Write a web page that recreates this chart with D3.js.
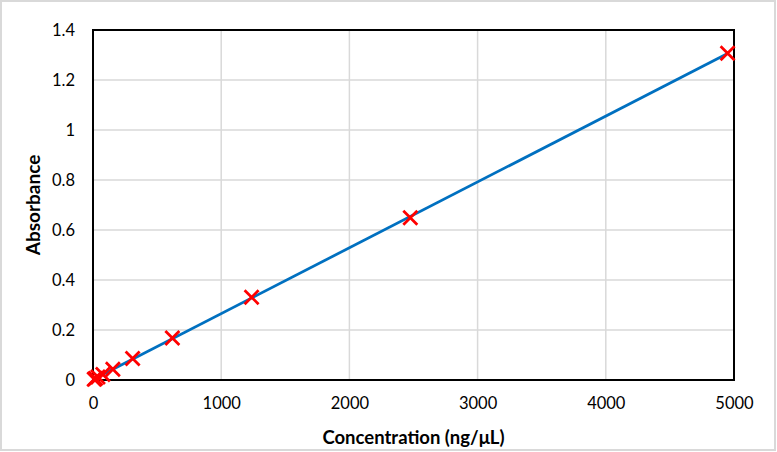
<!DOCTYPE html>
<html><head><meta charset="utf-8">
<script src="https://cdn.jsdelivr.net/npm/d3@7"></script>
<style>body{margin:0;background:#fff}svg{display:block}text{font-family:Lato,"Open Sans",sans-serif}</style>
</head><body>
<script>
const concentration = [9.7, 19.3, 38.7, 77, 155, 309, 619, 1237, 2475, 4950];
const absorbance = [0.003, 0.006, 0.012, 0.022, 0.043, 0.086, 0.168, 0.331, 0.649, 1.307];
const xTicks = [0, 1000, 2000, 3000, 4000, 5000];
const yTicks = [0, 0.2, 0.4, 0.6, 0.8, 1, 1.2, 1.4];

const W = 777, H = 452;
const svg = d3.select("body").append("svg").attr("width", W).attr("height", H);
svg.append("rect").attr("x",1).attr("y",1).attr("width",W-3).attr("height",H-3)
  .attr("fill","#fff").attr("stroke","#d9d9d9").attr("stroke-width",2);

const L = 93, R = 734, T = 30, B = 380;
const x = d3.scaleLinear().domain([0,5000]).range([L,R]);
const y = d3.scaleLinear().domain([0,1.4]).range([B,T]);

// gridlines
svg.append("g").selectAll("line").data(xTicks.slice(1,-1)).join("line")
  .attr("x1",d=>x(d)).attr("x2",d=>x(d)).attr("y1",T).attr("y2",B)
  .attr("stroke","#d9d9d9").attr("stroke-width",1.5);
svg.append("g").selectAll("line").data(yTicks.slice(1,-1)).join("line")
  .attr("x1",L).attr("x2",R).attr("y1",d=>y(d)).attr("y2",d=>y(d))
  .attr("stroke","#d9d9d9").attr("stroke-width",1.5);

// axes (labels only)
const xa = svg.append("g").attr("transform",`translate(0,${B})`)
  .call(d3.axisBottom(x).tickValues(xTicks).tickSize(0).tickPadding(17).tickFormat(d3.format("d")));
const ya = svg.append("g").attr("transform",`translate(${L},0)`)
  .call(d3.axisLeft(y).tickValues(yTicks).tickSize(0).tickPadding(18).tickFormat(d=>String(+d.toFixed(1))));
[xa,ya].forEach(a=>{a.select(".domain").remove();a.selectAll("text").attr("font-size",16.5).attr("fill","#000").attr("font-family","Lato, 'Open Sans', sans-serif");});

// plot border
svg.append("rect").attr("x",L).attr("y",T).attr("width",R-L).attr("height",B-T)
  .attr("fill","none").attr("stroke","#000").attr("stroke-width",2);

// linear fit
const mx = d3.mean(concentration), my = d3.mean(absorbance);
const slope = d3.sum(concentration.map((c,i)=>(c-mx)*(absorbance[i]-my))) / d3.sum(concentration.map(c=>(c-mx)**2));
const icpt = my - slope*mx;
const x0 = 0, x1 = d3.max(concentration);
svg.append("line").attr("x1",x(x0)).attr("y1",y(icpt+slope*x0)).attr("x2",x(x1)).attr("y2",y(icpt+slope*x1))
  .attr("stroke","#0070c0").attr("stroke-width",2.75);

// markers
const s = 7;
const g = svg.append("g").selectAll("g").data(concentration.map((c,i)=>[c,absorbance[i]])).join("g")
  .attr("transform",d=>`translate(${x(d[0])},${y(d[1])})`);
g.append("path").attr("d",`M${-s},${-s}L${s},${s}M${-s},${s}L${s},${-s}`)
  .attr("stroke","#ff0000").attr("stroke-width",2.75).attr("fill","none");

// titles
svg.append("text").attr("x",(L+R)/2).attr("y",444).attr("text-anchor","middle")
  .attr("font-size",18.5).attr("font-weight","bold").text("Concentration (ng/μL)");
svg.append("text").attr("transform",`translate(40,${(T+B)/2}) rotate(-90)`).attr("text-anchor","middle")
  .attr("font-size",19).attr("font-weight","bold").text("Absorbance");
</script>
</body></html>
